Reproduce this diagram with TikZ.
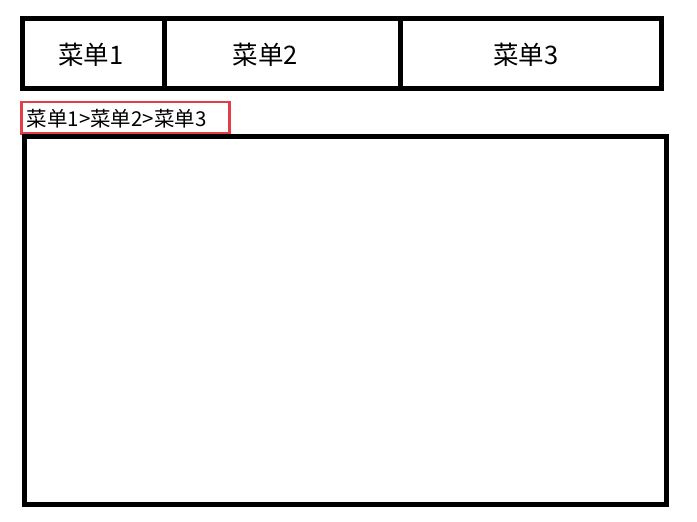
\documentclass[tikz,border=0pt]{standalone}
\usepackage{fontspec}
\newfontfamily\cjk{Noto Sans CJK SC}
\definecolor{crumbred}{RGB}{226,62,72}
\tikzset{
  frame/.style={draw=black, line width=5pt},
  crumbframe/.style={draw=crumbred, line width=2.5pt},
  menutext/.style={font=\cjk\fontsize{25.5}{30}\selectfont, inner sep=0pt},
  crumbtext/.style={font=\cjk\fontsize{20.5}{24}\selectfont, inner sep=0pt, anchor=west}
}
\begin{document}
\begin{tikzpicture}[x=1pt,y=-1pt]
\useasboundingbox[fill=white] (0,0) rectangle (697,522);
% top menu bar
\draw[frame] (22.5,18.5) rectangle (661.5,88);
\draw[frame] (164,18.5) -- (164,89);
\draw[frame] (400.5,18.5) -- (400.5,89);
\node[menutext] (m1) at (91,54.5) {菜单1};
\node[menutext] (m2) at (265.5,54.5) {菜单2};
\node[menutext] (m3) at (526,54.5) {菜单3};
% breadcrumb
\draw[crumbframe] (21.7,102) rectangle (229.5,133.5);
\node[crumbtext] (crumb) at (26.5,119) {菜单1>菜单2>菜单3};
% content area
\draw[frame] (24.5,136.5) rectangle (666.5,504.5);
\end{tikzpicture}
\end{document}
